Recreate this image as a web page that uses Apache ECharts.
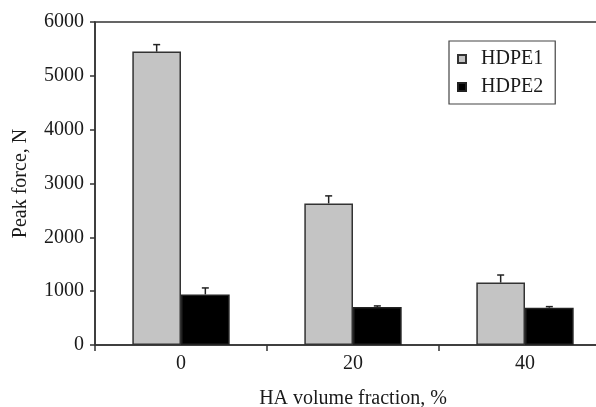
<!DOCTYPE html>
<html>
<head>
<meta charset="utf-8">
<script src="https://cdn.jsdelivr.net/npm/echarts@6/dist/echarts.min.js"></script>
<style>
  html, body { margin: 0; padding: 0; background: #fff; }
  #chart { width: 596px; height: 407px; }
</style>
</head>
<body>
<div id="chart"></div>
<script>
// HA volume fraction categories
const categories = ['0', '20', '40']
const hdpe1 = [5450, 2630, 1160]
const hdpe1Err = [130, 140, 140]
const hdpe2 = [940, 706, 693]
const hdpe2Err = [120, 20, 20]
const yTicks = [0, 1000, 2000, 3000, 4000, 5000, 6000]

const FONT = 'Liberation Serif'
const BAR_W = 0.283

// upper-only error bar with a small cap
function errorBars(values, errs, side) {
  return {
    type: 'custom',
    z: 5,
    silent: true,
    data: values.map((v, i) => [i, v, v + errs[i]]),
    renderItem(params, api) {
      const band = api.size([1, 0])[0]
      const off = side * band * BAR_W / 2
      const base = api.coord([api.value(0), api.value(1)])
      const top = api.coord([api.value(0), api.value(2)])
      const x = base[0] + off
      return {
        type: 'group',
        children: [
          { type: 'line', shape: { x1: x, y1: base[1], x2: x, y2: top[1] },
            style: { stroke: '#222', lineWidth: 1.5 } },
          { type: 'line', shape: { x1: x - 3.5, y1: top[1], x2: x + 3.5, y2: top[1] },
            style: { stroke: '#222', lineWidth: 1.5 } },
        ],
      }
    },
  }
}

const chart = echarts.init(document.getElementById('chart'))
chart.setOption({
  animation: false,
  backgroundColor: '#fff',
  textStyle: { fontFamily: FONT },
  grid: {
    left: 95, top: 22, right: -15, bottom: 62,
    outerBoundsMode: 'none',
    show: true, borderColor: '#333', borderWidth: 1.5,
  },
  legend: {
    left: 449, top: 41,
    orient: 'vertical',
    padding: [8, 12, 7, 8],
    itemGap: 8,
    itemWidth: 8, itemHeight: 8,
    icon: 'rect',
    borderColor: '#444', borderWidth: 1.2,
    textStyle: { fontFamily: FONT, fontSize: 20, color: '#1a1a1a', padding: [0, 0, 0, 10] },
    data: ['HDPE1', 'HDPE2'],
  },
  xAxis: {
    type: 'category',
    data: categories,
    name: 'HA volume fraction, %',
    nameLocation: 'middle',
    nameGap: 44,
    nameTextStyle: { fontFamily: FONT, fontSize: 20, color: '#1a1a1a' },
    axisLine: { lineStyle: { color: '#333', width: 1.5 } },
    axisTick: { show: true, length: 6, lineStyle: { color: '#333', width: 1.5 } },
    axisLabel: { fontFamily: FONT, fontSize: 20, color: '#1a1a1a', margin: 9 },
  },
  yAxis: {
    type: 'value',
    min: 0, max: 6000, interval: 1000,
    name: 'Peak force, N',
    nameLocation: 'middle',
    nameGap: 64,
    nameTextStyle: { fontFamily: FONT, fontSize: 20, color: '#1a1a1a' },
    axisLine: { show: true, lineStyle: { color: '#333', width: 1.5 } },
    axisTick: { show: true, length: 5, lineStyle: { color: '#333', width: 1.5 } },
    axisLabel: {
      fontFamily: FONT, fontSize: 20, color: '#1a1a1a', margin: 11,
      formatter: v => (yTicks.includes(v) ? String(v) : ''),
    },
    splitLine: { show: false },
  },
  series: [
    {
      name: 'HDPE1', type: 'bar', data: hdpe1,
      barWidth: (BAR_W * 100) + '%', barGap: '0%',
      itemStyle: { color: '#c4c4c4', borderColor: '#333', borderWidth: 1.5 },
    },
    {
      name: 'HDPE2', type: 'bar', data: hdpe2,
      barWidth: (BAR_W * 100) + '%', barGap: '0%',
      itemStyle: { color: '#000', borderColor: '#222', borderWidth: 1.5 },
    },
    errorBars(hdpe1, hdpe1Err, -1),
    errorBars(hdpe2, hdpe2Err, 1),
  ],
})
</script>
</body>
</html>
